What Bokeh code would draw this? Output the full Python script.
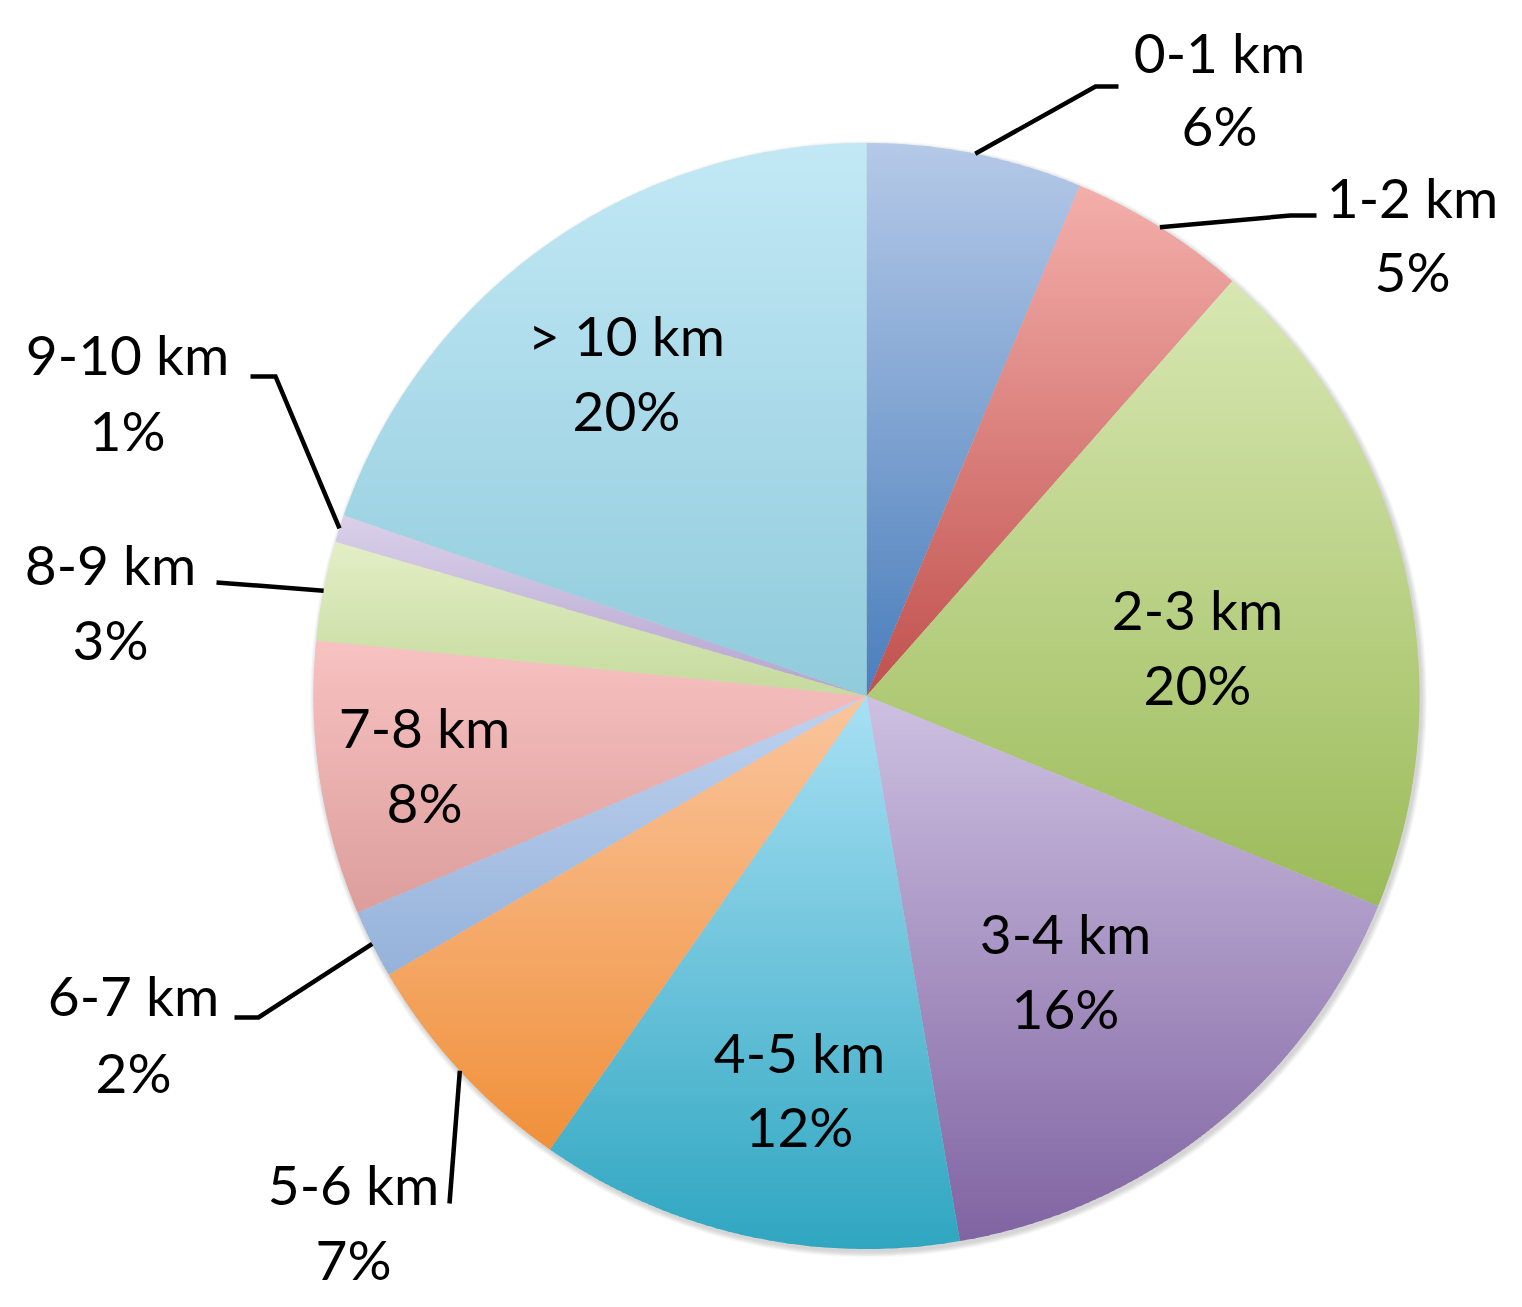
import math
from bokeh.plotting import figure
from bokeh.models import Range1d, ColumnDataSource
from bokeh.core.properties import value
from bokeh.embed import file_html
from bokeh.resources import INLINE

# ---------------- data ----------------
categories = ["0-1 km", "1-2 km", "2-3 km", "3-4 km", "4-5 km", "5-6 km",
              "6-7 km", "7-8 km", "8-9 km", "9-10 km", "> 10 km"]
shares = [6.3, 5.2, 19.7, 16.1, 12.4, 6.9, 2.0, 8.0, 2.9, 0.8, 19.7]
pct_labels = [f"{round(s)}%" for s in shares]

# ---------------- style / layout ----------------
top_colors = ["#b5c9e8", "#f4afab", "#d8e7b2", "#cdc0e1", "#a8e0f4", "#fac59d",
              "#bfd2ef", "#f7c2c1", "#e3eec6", "#dad0e9", "#c2e8f5"]
bot_colors = ["#4a7ebb", "#c0504d", "#9bbb59", "#8064a2", "#2fa6c1", "#f0903a",
              "#95b2da", "#dc9e9c", "#c5da9d", "#b4a5cf", "#90cbdc"]

W, H = 1506, 1291
CX, CY, R = 866.0, 695.5, 553.0
TEXT_SHIFT = -24

# label layout: (x, baseline line1, baseline line2)
label_pos = [(1219, 75, 148), (1412, 220, 294), (1197, 632, 707), (1065, 956, 1031),
             (799, 1075, 1149), (353, 1207, 1282), (133, 1018, 1095), (424, 750, 825),
             (110, 587, 662), (127, 377, 453), (626, 358, 433)]
# leader lines: index -> list of bend points after pie-edge start
leaders = {0: [(1095, 86), (1118, 86)],
           1: [(1290, 215), (1316, 215)],
           5: [(449, 1203)],
           6: [(258, 1017), (234, 1017)],
           8: [(216, 582)],
           9: [(275, 376), (250, 376)]}

p = figure(width=W, height=H, output_backend="svg", toolbar_location=None,
           x_range=Range1d(0, W), y_range=Range1d(H, 0),
           min_border=0)
p.axis.visible = False
p.grid.visible = False
p.outline_line_color = None
p.background_fill_color = "white"
p.border_fill_color = "white"


def hex2rgb(h):
    h = h.lstrip("#")
    return tuple(int(h[i:i + 2], 16) for i in (0, 2, 4))


def lerp(c1, c2, t):
    a, b = hex2rgb(c1), hex2rgb(c2)
    return "#%02x%02x%02x" % tuple(int(round(a[i] + (b[i] - a[i]) * t)) for i in range(3))


def clip_half(poly, y0, keep_below=True):
    def inside(pt):
        return pt[1] >= y0 if keep_below else pt[1] <= y0
    out = []
    n = len(poly)
    for i in range(n):
        a = poly[i]
        b = poly[(i + 1) % n]
        ia, ib = inside(a), inside(b)
        if ia:
            out.append(a)
        if ia != ib:
            t = (y0 - a[1]) / (b[1] - a[1])
            out.append((a[0] + t * (b[0] - a[0]), y0))
    return out


def pt_at(frac, r):
    th = 2 * math.pi * frac
    return (CX + r * math.sin(th), CY - r * math.cos(th))


# soft shadow (slightly offset down-right)
for k in range(7, 0, -1):
    p.circle(x=[CX + 2], y=[CY + 3], radius=R + k * 0.8, fill_color="#000000",
             fill_alpha=0.025, line_color=None)

total = sum(shares)
cum = 0.0
xs_all, ys_all, cols_all = [], [], []
mids = []
for i, s in enumerate(shares):
    f0 = cum / total
    f1 = (cum + s) / total
    cum += s
    mids.append((f0 + f1) / 2)
    npts = max(4, int((f1 - f0) * 720))
    poly = [(CX, CY)] + [pt_at(f0 + (f1 - f0) * j / npts, R) for j in range(npts + 1)]
    ymin = min(q[1] for q in poly)
    ymax = max(q[1] for q in poly)
    nb = max(8, int((ymax - ymin) / 3))
    for b in range(nb):
        t0 = ymin + (ymax - ymin) * b / nb
        t1 = ymin + (ymax - ymin) * (b + 1) / nb + 1.0
        sub = clip_half(poly, t0, True)
        if len(sub) < 3:
            continue
        sub = clip_half(sub, t1, False)
        if len(sub) < 3:
            continue
        xs_all.append([q[0] for q in sub])
        ys_all.append([q[1] for q in sub])
        cols_all.append(lerp(top_colors[i], bot_colors[i], (b + 0.5) / nb))

p.patches(xs="xs", ys="ys", fill_color="c", line_color=None,
          source=ColumnDataSource(dict(xs=xs_all, ys=ys_all, c=cols_all)))

# leader lines
for i, pts in leaders.items():
    start = pt_at(mids[i], R)
    line = [start] + pts
    p.line([q[0] for q in line], [q[1] for q in line], line_color="#000000",
           line_width=4.5, line_join="miter")

# labels
font = value("Lato")
p.text(x=[lp[0] for lp in label_pos], y=[lp[1] + TEXT_SHIFT for lp in label_pos],
       text=categories, text_font=font, text_font_size="55px", text_align="center",
       text_baseline="alphabetic", text_color="#000000")
p.text(x=[lp[0] for lp in label_pos], y=[lp[2] + TEXT_SHIFT for lp in label_pos],
       text=pct_labels, text_font=font, text_font_size="55px", text_align="center",
       text_baseline="alphabetic", text_color="#000000")

open("out.html", "w").write(file_html(p, INLINE))
